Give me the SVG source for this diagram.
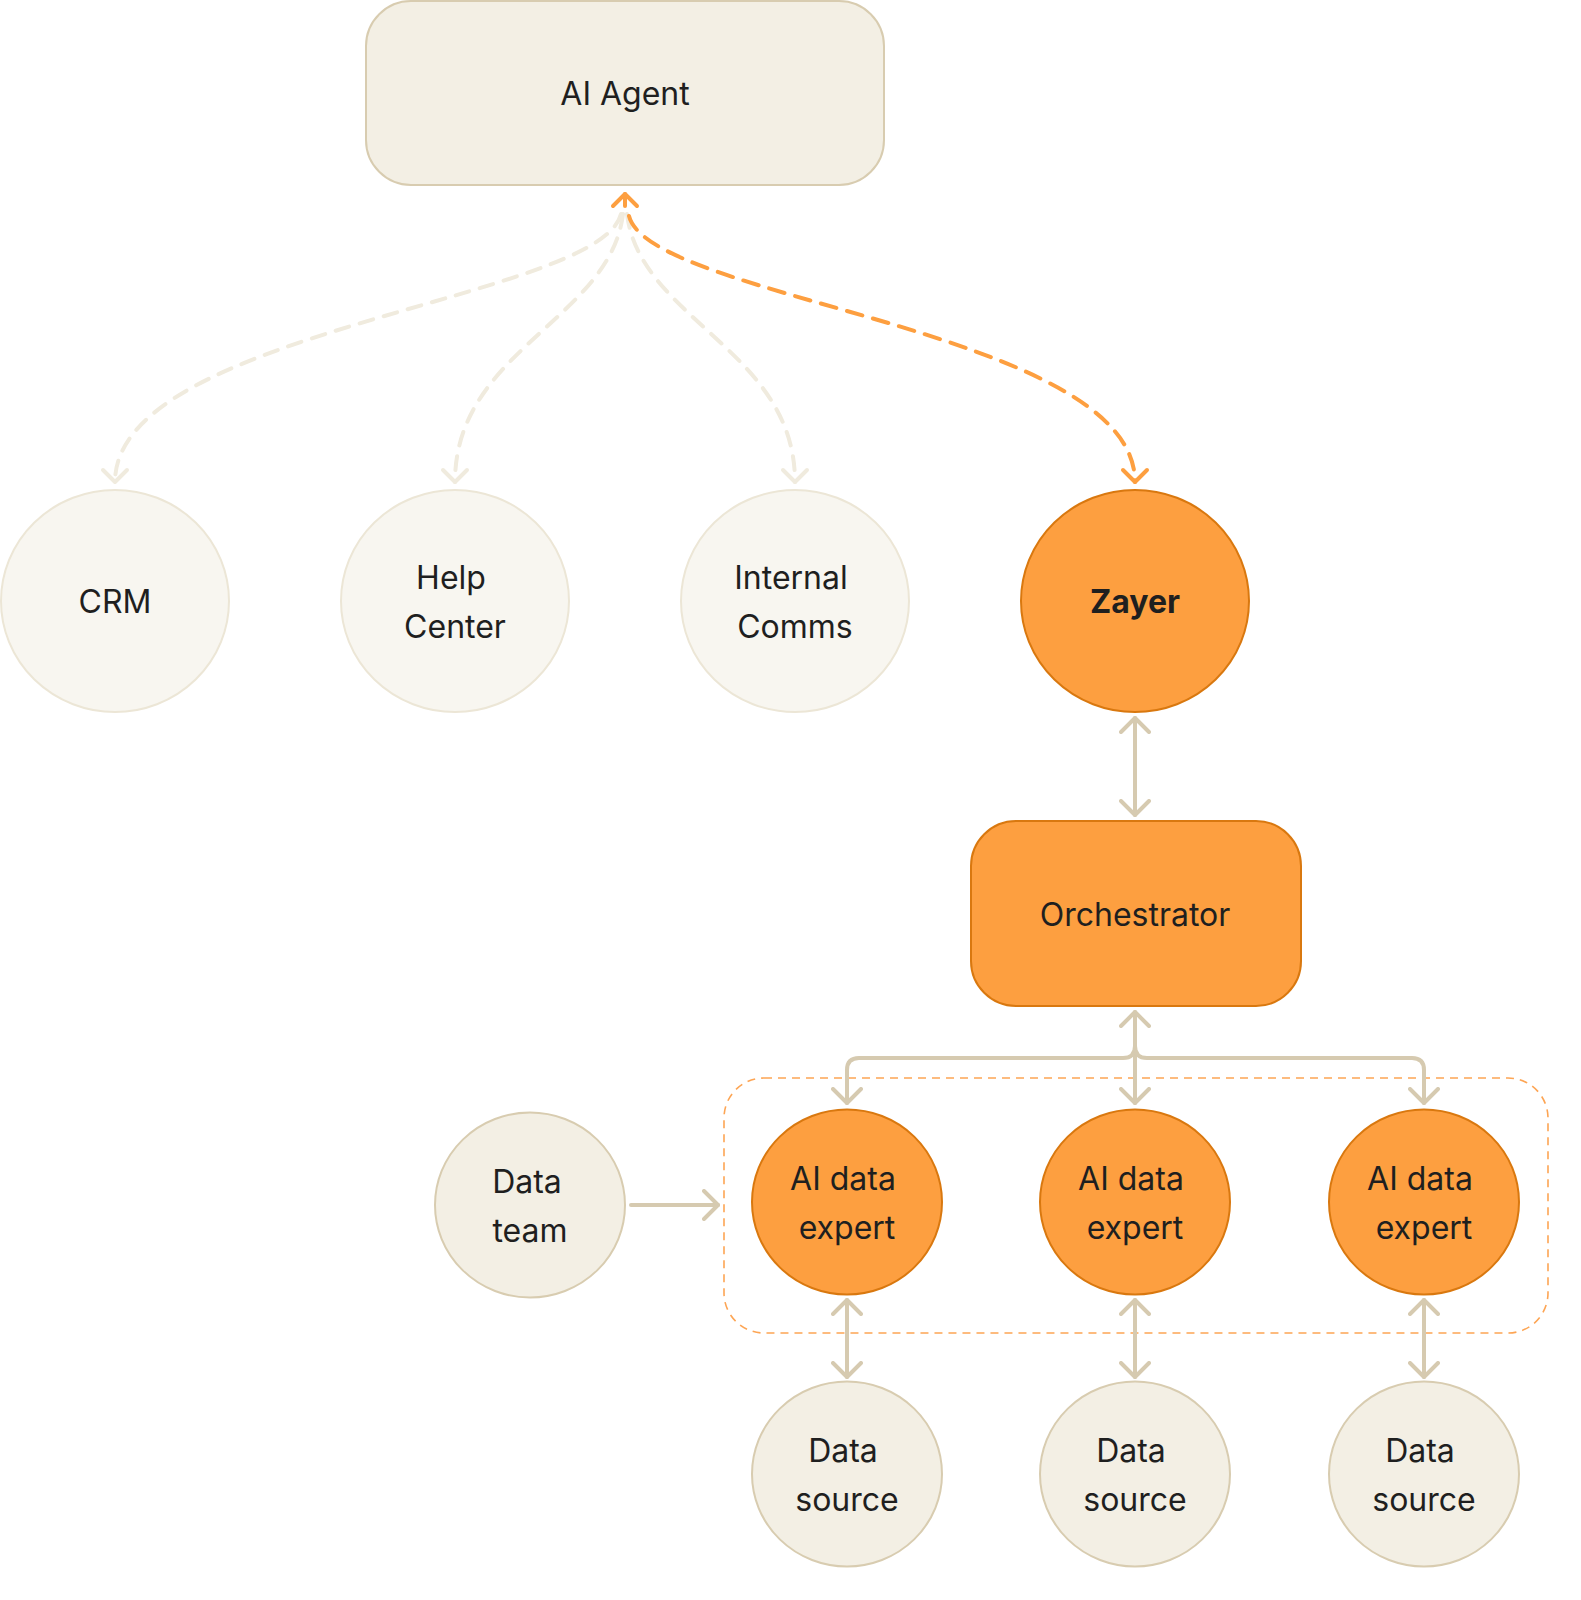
<svg xmlns="http://www.w3.org/2000/svg" width="1581" height="1600" viewBox="0 0 1581 1600">
<style>
text{font-family:Inter,"Noto Sans","Liberation Sans",sans-serif;font-size:32px;fill:#1f1f1f;text-anchor:middle;dominant-baseline:central}
.beige{fill:#F3EFE4;stroke:#D8CCB0;stroke-width:2}
.pale{fill:#F8F6F0;stroke:#ECE6D6;stroke-width:2}
.orange{fill:#FD9F40;stroke:#D9780F;stroke-width:2}
.solid{fill:none;stroke:#D6CAB0;stroke-width:4;stroke-linecap:round;stroke-linejoin:round}
.lightdash{fill:none;stroke:#F0EBDE;stroke-width:4;stroke-dasharray:14 11;stroke-linecap:round}
.orangedash{fill:none;stroke:#FD9F40;stroke-width:4;stroke-dasharray:16 11;stroke-linecap:round}
.group{fill:none;stroke:#FDA554;stroke-width:1.6;stroke-dasharray:8 6}
</style>
<defs>
<marker id="a-beige" viewBox="-16 -16 20 32" refX="0" refY="0" markerWidth="20" markerHeight="32" markerUnits="userSpaceOnUse" orient="auto-start-reverse">
<path d="M-14,-14 L0,0 L-14,14" fill="none" stroke="#D6CAB0" stroke-width="4" stroke-linecap="round" stroke-linejoin="round"/>
</marker>
<marker id="a-light" viewBox="-16 -16 20 32" refX="0" refY="0" markerWidth="20" markerHeight="32" markerUnits="userSpaceOnUse" orient="auto-start-reverse">
<path d="M-12,-12 L0,0 L-12,12" fill="none" stroke="#F0EBDE" stroke-width="4" stroke-linecap="round" stroke-linejoin="round"/>
</marker>
<marker id="a-orange" viewBox="-16 -16 20 32" refX="0" refY="0" markerWidth="20" markerHeight="32" markerUnits="userSpaceOnUse" orient="auto-start-reverse">
<path d="M-12,-12 L0,0 L-12,12" fill="none" stroke="#FD9F40" stroke-width="4" stroke-linecap="round" stroke-linejoin="round"/>
</marker>
</defs>
<rect width="1581" height="1600" fill="#ffffff"/>

<g id="expert-group">
<rect class="group" x="724" y="1078" width="824" height="255" rx="40"/>
</g>

<g id="connectors">
<path class="lightdash" d="M621,214 C600,300 115,330 115,482" marker-end="url(#a-light)"/>
<path class="lightdash" d="M623,214 C610,320 455,350 455,482" marker-end="url(#a-light)"/>
<path class="lightdash" d="M627,214 C640,320 795,350 795,482" marker-end="url(#a-light)"/>
<path class="orangedash" d="M629,216 C650,300 1135,330 1135,482" marker-end="url(#a-orange)"/>
<path class="orangedash" style="stroke-dasharray:none" d="M625,206 V194" marker-end="url(#a-orange)"/>
<path class="solid" d="M1135,718 V815" marker-start="url(#a-beige)" marker-end="url(#a-beige)"/>
<path class="solid" d="M1135,1012 V1103" marker-start="url(#a-beige)" marker-end="url(#a-beige)"/>
<path class="solid" d="M847,1103 V1070 Q847,1058 859,1058 H1123 Q1135,1058 1135,1046" marker-start="url(#a-beige)"/>
<path class="solid" d="M1424,1103 V1070 Q1424,1058 1412,1058 H1147 Q1135,1058 1135,1046" marker-start="url(#a-beige)"/>
<path class="solid" d="M631,1205 H718" marker-end="url(#a-beige)"/>
<path class="solid" d="M847,1300 V1377" marker-start="url(#a-beige)" marker-end="url(#a-beige)"/>
<path class="solid" d="M1135,1300 V1377" marker-start="url(#a-beige)" marker-end="url(#a-beige)"/>
<path class="solid" d="M1424,1300 V1377" marker-start="url(#a-beige)" marker-end="url(#a-beige)"/>
</g>

<g id="ai-agent">
<rect class="beige" x="366" y="1" width="518" height="184" rx="45"/>
<text x="625" y="93">AI Agent</text>
</g>
<g id="crm">
<ellipse class="pale" cx="115" cy="601" rx="114" ry="111"/>
<text x="115" y="601">CRM</text>
</g>
<g id="help-center">
<ellipse class="pale" cx="455" cy="601" rx="114" ry="111"/>
<text x="451" y="577">Help</text>
<text x="455" y="626">Center</text>
</g>
<g id="internal-comms">
<ellipse class="pale" cx="795" cy="601" rx="114" ry="111"/>
<text x="791" y="577">Internal</text>
<text x="795" y="626">Comms</text>
</g>
<g id="zayer">
<ellipse class="orange" cx="1135" cy="601" rx="114" ry="111"/>
<text x="1135" y="601" style="font-weight:700">Zayer</text>
</g>
<g id="orchestrator">
<rect class="orange" x="971" y="821" width="330" height="185" rx="45"/>
<text x="1135" y="914">Orchestrator</text>
</g>
<g id="data-team">
<ellipse class="beige" cx="530" cy="1205" rx="95" ry="92.5"/>
<text x="527" y="1181">Data</text>
<text x="530" y="1230">team</text>
</g>
<g id="expert-1">
<ellipse class="orange" cx="847" cy="1202" rx="95" ry="92.5"/>
<text x="843" y="1178">AI data</text>
<text x="847" y="1227">expert</text>
</g>
<g id="expert-2">
<ellipse class="orange" cx="1135" cy="1202" rx="95" ry="92.5"/>
<text x="1131" y="1178">AI data</text>
<text x="1135" y="1227">expert</text>
</g>
<g id="expert-3">
<ellipse class="orange" cx="1424" cy="1202" rx="95" ry="92.5"/>
<text x="1420" y="1178">AI data</text>
<text x="1424" y="1227">expert</text>
</g>
<g id="source-1">
<ellipse class="beige" cx="847" cy="1474" rx="95" ry="92.5"/>
<text x="843" y="1450">Data</text>
<text x="847" y="1499">source</text>
</g>
<g id="source-2">
<ellipse class="beige" cx="1135" cy="1474" rx="95" ry="92.5"/>
<text x="1131" y="1450">Data</text>
<text x="1135" y="1499">source</text>
</g>
<g id="source-3">
<ellipse class="beige" cx="1424" cy="1474" rx="95" ry="92.5"/>
<text x="1420" y="1450">Data</text>
<text x="1424" y="1499">source</text>
</g>
</svg>
